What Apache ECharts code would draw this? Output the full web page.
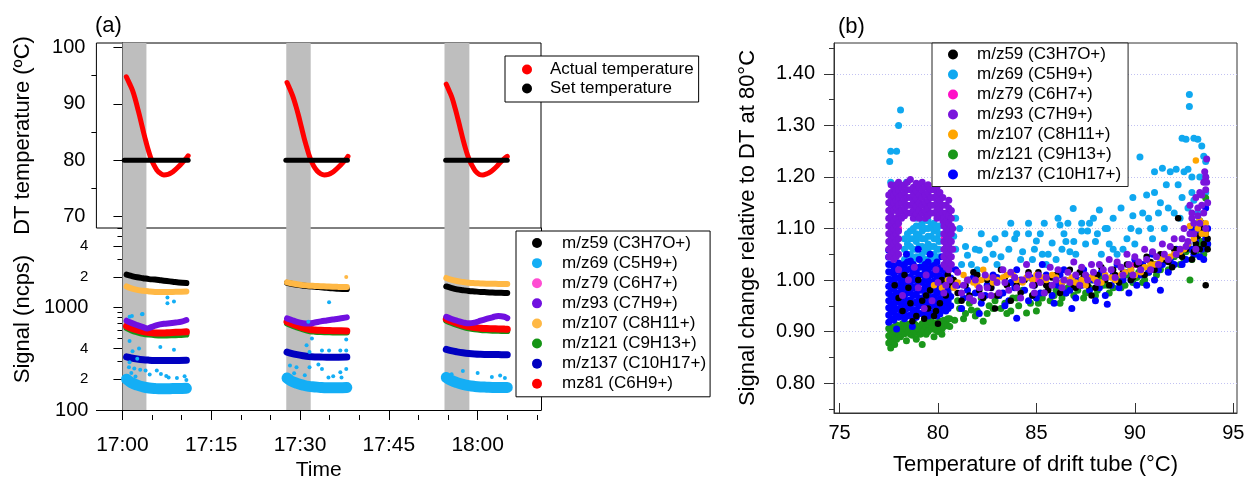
<!DOCTYPE html>
<html><head><meta charset="utf-8">
<script src="https://cdn.jsdelivr.net/npm/echarts@6/dist/echarts.min.js"></script>
<style>html,body{margin:0;padding:0;background:#fff}#c{width:1247px;height:477px}</style>
</head><body><div id="c"></div>
<script>
// ================= Panel (a) =================
const timeTicks = [0, 15, 30, 45, 60];            // minutes after 17:00
const timeMinorTicks = [5, 10, 20, 25, 35, 40, 50, 55, 65, 70];
const tempTicks = [70, 80, 90, 100];
const tempMinorTicks = [75, 85, 95];
const signalTicks = [100, 200, 400, 1000, 2000, 4000];
const signalMinorTicks = [300, 500, 600, 700, 800, 900, 3000, 5000, 6000];
const heatBands = [[0, 4.05], [27.67, 31.8], [54.4, 58.6]];

const actualTemp = [
  [[0.66,94.8],[1.2,93.6],[1.7,92.4],[2.2,90.7],[2.65,88.9],[3.1,87.0],[3.6,84.8],[4.0,83.2],[4.4,81.7],[4.8,80.4],[5.2,79.4],[5.8,78.3],[6.4,77.7],[7.0,77.4],[7.7,77.5],[8.3,77.8],[8.9,78.3],[9.5,78.9],[10.2,79.7],[10.8,80.4],[11.1,80.8]],
  [[27.8,93.8],[28.3,92.6],[28.8,91.3],[29.3,89.6],[29.75,87.9],[30.2,86.0],[30.7,83.9],[31.1,82.4],[31.5,81.0],[31.9,79.9],[32.3,79.0],[32.9,78.1],[33.5,77.6],[34.1,77.4],[34.8,77.5],[35.4,77.8],[36.0,78.3],[36.6,78.9],[37.3,79.7],[37.9,80.4],[38.1,80.7]],
  [[54.7,93.5],[55.2,92.3],[55.7,91.0],[56.2,89.2],[56.65,87.4],[57.1,85.5],[57.6,83.4],[58.0,81.9],[58.4,80.6],[58.8,79.6],[59.2,78.8],[59.7,78.0],[60.3,77.5],[60.9,77.4],[61.5,77.6],[62.1,77.9],[62.7,78.4],[63.3,79.0],[63.9,79.7],[64.5,80.3],[65.0,80.7]]
];
const setTemp = [
  [[0.3,80],[11.1,80]],
  [[27.6,80],[38.0,80]],
  [[54.6,80],[65.0,80]]
];

const mz59 = [
  [[0.7,2100],[1.5,2040],[2.5,1980],[3.5,1940],[4.5,1900],[5.5,1880],[6.5,1850],[7.5,1820],[8.5,1790],[9.5,1760],[10.8,1740]],
  [[27.8,1750],[28.5,1710],[29.5,1670],[30.5,1640],[31.5,1615],[32.5,1600],[33.5,1580],[34.5,1560],[35.5,1545],[36.5,1530],[37.9,1518]],
  [[54.7,1610],[55.5,1560],[56.5,1510],[57.5,1480],[58.5,1455],[59.5,1440],[60.5,1425],[61.5,1415],[62.5,1405],[63.5,1398],[64.5,1392],[65.0,1390]]
];
const mz107 = [
  [[0.7,1610],[1.5,1540],[2.5,1490],[3.5,1460],[4.5,1440],[5.5,1425],[6.5,1420],[7.5,1420],[8.5,1425],[9.5,1430],[10.8,1440]],
  [[27.8,1765],[28.5,1730],[29.5,1690],[30.5,1660],[31.5,1640],[32.5,1630],[33.5,1620],[34.5,1610],[35.5,1600],[36.5,1595],[37.9,1590]],
  [[54.7,1950],[55.5,1880],[56.5,1820],[57.5,1780],[58.5,1750],[59.5,1735],[60.5,1725],[61.5,1715],[62.5,1710],[63.5,1705],[64.5,1700],[65.0,1700]]
];
const mz93 = [
  [[0.7,745],[1.5,710],[2.5,675],[3.5,645],[4.2,627],[5.0,650],[6.0,680],[7.0,695],[8.0,705],[9.0,715],[10.0,730],[10.8,757]],
  [[27.8,785],[28.5,760],[29.5,725],[30.5,705],[31.5,700],[32.5,715],[33.5,735],[34.5,750],[35.5,765],[36.5,780],[37.9,804]],
  [[54.7,815],[55.5,780],[56.5,745],[57.5,718],[58.5,702],[59.5,715],[60.5,745],[61.5,775],[62.5,805],[63.5,830],[64.5,815],[65.0,790]]
];
const mz81 = [
  [[0.7,660],[1.5,630],[2.5,605],[3.5,585],[4.5,572],[5.5,566],[6.5,565],[7.5,568],[8.5,572],[9.5,575],[10.8,580]],
  [[27.8,728],[28.5,700],[29.5,665],[30.5,635],[31.5,615],[32.5,605],[33.5,600],[34.5,598],[35.5,596],[36.5,594],[37.9,593]],
  [[54.7,774],[55.5,740],[56.5,705],[57.5,675],[58.5,652],[59.5,638],[60.5,630],[61.5,625],[62.5,622],[63.5,619],[64.5,617],[65.0,616]]
];
const mz121 = [
  [[0.7,630],[1.5,600],[2.5,575],[3.5,556],[4.5,545],[5.5,538],[6.5,535],[7.5,535],[8.5,537],[9.5,540],[10.8,545]],
  [[27.8,700],[28.5,672],[29.5,640],[30.5,612],[31.5,592],[32.5,582],[33.5,577],[34.5,575],[35.5,573],[36.5,572],[37.9,572]],
  [[54.7,745],[55.5,712],[56.5,678],[57.5,650],[58.5,628],[59.5,614],[60.5,605],[61.5,600],[62.5,596],[63.5,593],[64.5,591],[65.0,590]]
];
const mz79 = [
  [[0.7,650],[2.5,598],[4.5,565],[6.5,558],[8.5,565],[10.8,572]],
  [[27.8,715],[29.5,655],[31.5,606],[33.5,592],[35.5,588],[37.9,586]],
  [[54.7,760],[56.5,695],[58.5,643],[60.5,622],[62.5,614],[65.0,608]]
];
const mz137 = [
  [[0.7,330],[1.5,322],[2.5,315],[3.5,310],[4.5,307],[5.5,305],[6.5,304],[7.5,304],[8.5,305],[9.5,305],[10.8,306]],
  [[27.8,368],[28.5,358],[29.5,347],[30.5,339],[31.5,333],[32.5,330],[33.5,329],[34.5,328],[35.5,328],[36.5,328],[37.9,329]],
  [[54.7,391],[55.5,380],[56.5,370],[57.5,362],[58.5,356],[59.5,352],[60.5,350],[61.5,349],[62.5,348],[63.5,348],[64.5,347],[65.0,347]]
];
const mz69 = [
  [[0.7,200],[1.5,185],[2.5,175],[3.5,168],[4.5,164],[5.5,162],[6.5,161],[7.5,161],[8.5,162],[9.5,162],[10.8,163]],
  [[27.8,205],[28.5,192],[29.5,182],[30.5,175],[31.5,170],[32.5,168],[33.5,166],[34.5,165],[35.5,165],[36.5,165],[37.9,166]],
  [[54.7,208],[55.5,195],[56.5,185],[57.5,178],[58.5,173],[59.5,170],[60.5,168],[61.5,167],[62.5,166],[63.5,166],[64.5,166],[65.0,166]]
];
const mz69Outliers = [[7.6,1256],[7.6,1105],[8.7,1146],[1.2,815],[3.4,866],[1.2,472],[6.4,412],[8.7,388],[1.7,376],[2.8,398],
  [1.1,262],[2.0,255],[3.0,248],[3.9,243],[5.8,243],[6.5,225],[7.4,215],[7.8,208],[1.2,293],[2.5,316],[10.8,196],[3.3,861],[1.6,828],
  [34.9,1130],[31.4,728],[32.0,499],[31.1,428],[31.6,368],[33.7,382],[34.9,382],[36.8,382],[37.8,382],[37.8,488],
  [28.3,272],[29.4,262],[31.6,262],[33.1,278],[33.7,252],[34.8,208],[36.8,234],[37.0,208],[37.8,252],[63.8,217],[57.5,240],[60.0,230],
  [1.5,230],[2.2,212],[4.6,222],[9.2,205],[10.5,214],[29.0,228],[30.8,218],[35.6,214],[55.6,224],[62.4,210],[64.6,205]];
const mz107Outliers = [[37.8,1995]];

// ================= Panel (b) =================
const bTempTicks = [75, 80, 85, 90, 95];
const bRatioTicks = [0.8, 0.9, 1.0, 1.1, 1.2, 1.3, 1.4];
const bRatioMinorTicks = [0.75, 0.85, 0.95, 1.05, 1.15, 1.25, 1.35, 1.45];

// dense cluster near 77.5-80.7 degC: columns of [temperature, [ratios...]]
const b137Block = [
  [77.5,[0.918,0.932,0.946,0.96,0.974,0.988,1.002,1.016,1.03,1.044,1.058]],
  [77.62,[0.925,0.94,0.955,0.97,0.985,1.0,1.015,1.03,1.045]],
  [77.75,[0.922,0.937,0.952,0.967,0.982,0.997,1.012,1.027]],
  [77.88,[0.93,0.945,0.96,0.975,0.99,1.005,1.02]],
  [78.0,[0.928,0.943,0.958,0.973,0.988,1.003,1.018,1.033]],
  [78.15,[0.935,0.95,0.965,0.98,0.995,1.01,1.025]],
  [78.3,[0.925,0.94,0.955,0.97,0.985,1.0,1.015,1.03]],
  [78.45,[0.93,0.945,0.96,0.975,0.99,1.005,1.02,1.035]],
  [78.6,[0.932,0.947,0.962,0.977,0.992,1.007,1.022,1.037]],
  [78.75,[0.925,0.94,0.955,0.97,0.985,1.0,1.015,1.03]],
  [78.9,[0.928,0.943,0.958,0.973,0.988,1.003,1.018]],
  [79.05,[0.935,0.95,0.965,0.98,0.995,1.01,1.025,1.04]],
  [79.2,[0.935,0.95,0.965,0.98,0.995,1.01,1.025]],
  [79.35,[0.94,0.955,0.97,0.985,1.0,1.015,1.03]],
  [79.5,[0.93,0.945,0.96,0.975,0.99,1.005,1.02,1.035]],
  [79.65,[0.935,0.95,0.965,0.98,0.995,1.01,1.025]],
  [79.8,[0.938,0.953,0.968,0.983,0.998,1.013,1.028]],
  [79.95,[0.93,0.945,0.96,0.975,0.99,1.005,1.02,1.035]],
  [80.1,[0.934,0.949,0.964,0.979,0.994,1.009,1.024]],
  [80.25,[0.945,0.96,0.975,0.99,1.005,1.02]],
  [80.4,[0.94,0.955,0.97,0.985,1.0,1.015,1.03]],
  [80.52,[0.945,0.96,0.975,0.99,1.005,1.02,1.035]],
  [80.65,[0.95,0.968,0.986,1.004,1.022]]
];
const b137Scatter = [[79.0,1.06],[79.6,1.05],[80.2,1.045],[78.4,1.05],[77.9,0.905],[78.7,0.91],
  [81.0,0.99],[81.3,0.965],[81.6,1.0],[81.9,0.975],[82.2,0.955],[82.5,0.99],[82.8,1.01],[83.1,0.97],[83.4,0.95],[83.7,0.995],[84.0,1.02],[84.0,0.926],
  [84.4,0.98],[84.7,1.005],[85.0,0.965],[85.3,1.03],[85.6,0.99],[85.9,0.955],[86.2,1.01],[86.5,0.975],[86.8,0.945],[87.1,1.0],[87.4,1.02],[87.7,0.98],
  [88.0,0.96],[88.3,1.015],[88.6,0.953],[88.8,0.99],[89.1,1.03],[89.4,1.0],[89.7,0.975],[90.0,1.04],[90.3,1.01],[90.6,0.99],[90.9,1.05],[91.2,1.02],
  [91.3,0.98],[91.8,1.04],[92.1,1.06],[92.4,1.03],[92.7,1.07],[93.0,1.05],[93.2,1.09],[93.4,1.06],[93.6,1.08],[93.7,1.1],[93.5,1.04],[92.9,1.1],
  [80.9,1.02],[81.2,0.945],[81.5,0.98],[81.8,1.005],[82.1,0.935],[82.4,0.97],[82.7,0.985],[83.0,1.005],[83.3,0.975],[83.6,0.96],[83.9,0.985],
  [84.2,1.0],[84.6,0.96],[84.9,0.99],[85.2,0.975],[85.5,1.01],[85.8,0.97],[86.1,0.99],[86.4,1.02],[86.7,0.98],[87.0,0.965],[87.3,0.99],
  [87.6,1.005],[87.9,1.0],[88.2,0.985],[88.5,0.97],[88.9,1.01],[89.2,0.985],[89.5,1.015],[89.8,1.0],[90.1,0.99],[90.4,1.03],[90.7,1.015],
  [91.0,1.0],[91.4,1.03],[91.7,1.015],[92.0,1.03],[92.3,1.05],[92.6,1.04],[92.9,1.06],[93.1,1.075],[93.3,1.045],[93.5,1.09],[93.7,1.07],
  [93.4,1.11],[93.6,1.14]];

const b93Block = [
  [77.5,[1.045,1.06,1.075,1.09,1.105,1.12,1.135,1.15,1.165]],
  [77.62,[1.05,1.065,1.08,1.095,1.11,1.125,1.14,1.155,1.17,1.185]],
  [77.75,[1.04,1.055,1.07,1.085,1.1,1.115,1.135,1.15,1.165,1.18]],
  [77.88,[1.045,1.06,1.075,1.09,1.105,1.12,1.14,1.155,1.17,1.185]],
  [78.0,[1.05,1.065,1.08,1.095,1.11,1.13,1.145,1.16,1.175,1.19]],
  [78.15,[1.12,1.135,1.15,1.165,1.18]],
  [78.3,[1.125,1.14,1.155,1.17,1.185]],
  [78.45,[1.13,1.145,1.16,1.175,1.19]],
  [78.6,[1.13,1.145,1.16,1.175,1.195]],
  [78.75,[1.12,1.135,1.15,1.165,1.18]],
  [78.9,[1.128,1.143,1.158,1.173,1.188]],
  [79.05,[1.12,1.135,1.15,1.165,1.18]],
  [79.2,[1.13,1.145,1.16,1.175,1.19]],
  [79.35,[1.12,1.135,1.15,1.165,1.18]],
  [79.5,[1.125,1.14,1.155,1.17,1.185]],
  [79.65,[1.13,1.145,1.16,1.175]],
  [79.8,[1.13,1.145,1.16,1.175]],
  [79.95,[1.12,1.135,1.15,1.165,1.18]],
  [80.1,[1.125,1.14,1.155,1.17]],
  [80.25,[1.115,1.13,1.145,1.16]],
  [80.3,[1.03,1.045,1.06,1.075,1.09,1.105,1.12]],
  [80.42,[1.025,1.04,1.055,1.07,1.085,1.1,1.115,1.13,1.145]],
  [80.55,[1.02,1.035,1.05,1.065,1.08,1.095,1.11,1.125,1.14,1.155]],
  [80.68,[1.03,1.045,1.06,1.075,1.09,1.105,1.12,1.135]]
];
const b93Scatter = [[78.5,1.0],[79.0,0.985],[79.4,1.01],[80.0,0.995],[78.2,0.97],[79.7,0.96],[80.3,0.975],[78.8,1.025],[79.3,0.945],
  [80.6,1.0],[80.4,0.99],[79.9,1.02],[78.0,1.02],[80.75,1.06],[80.75,1.1],
  [80.9,0.99],[81.2,0.975],[81.5,1.0],[81.8,0.96],[82.1,0.985],[82.4,1.01],[82.7,0.97],[83.0,0.995],[83.3,1.02],[83.6,0.98],[83.9,1.005],
  [84.2,0.965],[84.5,1.03],[84.8,0.99],[85.1,1.01],[85.4,0.975],[85.7,1.025],[86.0,1.0],[86.3,0.985],[86.6,1.015],[86.9,1.035],[87.2,0.99],
  [87.5,1.01],[87.8,1.03],[88.1,0.995],[88.4,1.02],[88.7,1.04],[89.0,1.005],[89.3,1.025],[89.6,1.05],[89.9,1.01],[90.2,1.035],[90.5,1.06],
  [90.8,1.02],[91.1,1.045],[91.4,1.07],[91.7,1.04],[92.0,1.08],[92.3,1.06],[92.5,1.1],[92.7,1.075],[92.9,1.12],[93.0,1.09],[93.2,1.14],
  [93.3,1.11],[93.4,1.165],[93.5,1.13],[93.6,1.2],[93.65,1.235],[93.5,1.19],[93.3,1.17],[93.6,1.1],[92.8,1.145],[93.1,1.06],
  [81.0,1.015],[81.3,0.99],[81.6,0.965],[81.9,1.0],[82.2,0.97],[82.5,0.985],[82.8,1.005],[83.1,0.975],[83.4,0.995],[83.7,1.015],[84.0,0.985],
  [84.3,1.0],[84.6,1.01],[84.9,0.975],[85.2,0.995],[85.5,1.005],[85.8,0.99],[86.1,1.02],[86.4,1.0],[86.7,0.995],[87.0,1.01],[87.3,1.025],
  [87.6,1.0],[87.9,1.015],[88.2,1.03],[88.5,1.005],[88.8,1.02],[89.1,1.035],[89.4,1.01],[89.7,1.03],[90.0,1.045],[90.3,1.02],[90.6,1.04],
  [90.9,1.055],[91.2,1.03],[91.5,1.05],[91.8,1.065],[92.1,1.05],[92.4,1.08],[92.6,1.065],[92.8,1.09],[93.0,1.11],[93.2,1.125],[93.4,1.145],
  [93.6,1.175],[93.55,1.21],[93.65,1.19],[93.7,1.15],[93.1,1.16],[92.9,1.13]];

const b69Block = [
  [78.3,[1.04,1.06,1.08]],
  [78.45,[1.05,1.07,1.09]],
  [78.6,[1.035,1.05,1.065,1.08,1.095]],
  [78.75,[1.04,1.06,1.08,1.1]],
  [78.9,[1.045,1.06,1.075,1.09,1.105,1.12]],
  [79.05,[1.045,1.065,1.085,1.105]],
  [79.2,[1.035,1.05,1.065,1.08,1.095,1.11]],
  [79.35,[1.04,1.06,1.08,1.1]],
  [79.5,[1.04,1.055,1.07,1.085,1.1,1.115]],
  [79.65,[1.045,1.065,1.085,1.105]],
  [79.8,[1.035,1.05,1.065,1.08,1.095,1.11]],
  [79.95,[1.04,1.06,1.08,1.1]],
  [80.05,[1.045,1.06,1.075,1.09,1.105]]
];
const b69Scatter = [[78.1,1.33],[78.0,1.30],[77.6,1.25],[77.9,1.25],[77.55,1.23],[77.6,1.19],[78.4,1.19],[80.9,1.12],[81.1,1.10],[81.4,1.065],[80.8,1.085],[80.9,1.06],
  [81.5,1.048],[82.1,1.058],[82.4,1.04],[82.8,1.05],[83.2,1.045],[83.4,1.09],[83.7,1.11],[83.9,1.08],[84.0,1.09],[84.3,1.055],[84.6,1.09],[84.6,1.11],
  [85.0,1.076],[85.3,1.05],[85.8,1.072],[86.1,1.12],[86.2,1.107],[86.5,1.075],[86.6,1.11],[86.7,1.055],[86.87,1.139],[86.9,1.075],[87.3,1.11],
  [87.3,1.095],[87.6,1.095],[87.7,1.11],[88.0,1.075],[88.2,1.136],[88.5,1.10],[88.6,1.10],[88.9,1.06],[89.3,1.14],[89.6,1.08],[89.9,1.125],
  [90.2,1.095],[90.26,1.239],[90.6,1.165],[90.7,1.12],[91.0,1.21],[91.3,1.15],[91.4,1.217],[91.6,1.185],[91.8,1.21],[92.0,1.13],[92.2,1.185],
  [92.1,1.215],[92.4,1.275],[92.5,1.21],[92.6,1.273],[92.7,1.215],[92.77,1.36],[92.77,1.337],[92.9,1.20],[93.0,1.275],[93.2,1.273],[93.4,1.26],
  [93.5,1.24],[93.6,1.20],[93.6,1.17],[92.4,1.16],[92.7,1.14],[93.0,1.155],[91.5,1.10],[90.9,1.08],[89.4,1.06],[88.3,1.05],[85.5,1.03],[84.8,1.04],
  [82.0,1.02],[81.7,1.03],
  [81.2,1.03],[81.9,1.06],[82.6,1.07],[83.0,1.03],[83.6,1.06],[84.2,1.04],[84.9,1.06],[85.2,1.09],[85.6,1.05],[86.0,1.04],[86.4,1.09],
  [87.0,1.05],[87.5,1.07],[88.1,1.09],[88.7,1.07],[89.1,1.05],[89.8,1.1],[90.0,1.07],[90.4,1.13],[90.8,1.1],[91.2,1.13],[91.7,1.14],
  [92.3,1.12],[92.9,1.17],[93.3,1.2],[93.6,1.23],[93.2,1.13],[91.0,1.17],[89.9,1.16],[88.9,1.12],[87.9,1.12],[86.3,1.06],[85.4,1.11],
  [82.9,1.08],[82.2,1.09]];

const b121Block = [
  [77.5,[0.878,0.892,0.906]],[77.6,[0.885,0.9]],[77.7,[0.88,0.894,0.908]],[77.8,[0.875,0.89,0.905]],[77.9,[0.885,0.899,0.913]],
  [78.0,[0.895,0.91]],[78.1,[0.89,0.904]],[78.2,[0.9,0.915]],[78.3,[0.896,0.91]],[78.4,[0.905]],[78.5,[0.9,0.914]],[78.6,[0.895,0.91]],
  [78.7,[0.893,0.908]],[78.8,[0.9,0.915]],[78.9,[0.898,0.912]],[79.0,[0.905]],[79.1,[0.895,0.91]],[79.2,[0.9,0.915]],[79.3,[0.902,0.916]],
  [79.4,[0.895,0.91]],[79.5,[0.9,0.914]],[79.6,[0.905,0.92]],[79.7,[0.905,0.918]],[79.8,[0.91]],[79.9,[0.903,0.917]],[80.0,[0.9,0.915]],
  [80.1,[0.908,0.92]],[80.2,[0.905,0.92]],[80.3,[0.91,0.922]],[80.4,[0.915]],[80.5,[0.912,0.925]],[80.6,[0.91,0.925]]
];
const b121Scatter = [[78.4,0.882],[79.2,0.875],[79.8,0.89],[80.2,0.895],[78.9,0.885],[77.6,0.868],
  [80.85,0.922],[81.1,0.945],[81.4,0.935],[81.7,0.942],[82.0,0.94],[82.3,0.92],[82.6,0.95],[82.9,0.96],[83.2,0.945],[83.5,0.935],[83.8,0.965],
  [84.1,0.95],[84.5,0.936],[84.8,0.97],[85.1,0.955],[85.4,0.975],[85.7,0.96],[86.0,0.98],[86.3,0.965],[86.6,0.985],[86.9,0.97],[87.2,0.99],
  [87.5,0.975],[87.8,1.0],[88.1,0.98],[88.4,0.99],[88.7,0.975],[89.0,1.0],[89.3,0.985],[89.6,1.01],[89.9,0.995],[90.2,1.015],[90.5,1.0],
  [90.8,1.025],[91.1,1.01],[91.4,1.035],[91.7,1.02],[92.0,1.045],[92.3,1.03],[92.6,1.055],[92.9,1.04],[93.2,1.065],[93.5,1.05],[93.3,1.115],
  [93.6,1.159],[92.8,1.0],[93.7,1.07],
  [81.0,0.96],[81.3,0.925],[81.6,0.955],[81.9,0.93],[82.2,0.965],[82.5,0.935],[82.8,0.945],[83.1,0.97],[83.4,0.955],[83.7,0.94],[84.0,0.965],
  [84.3,0.98],[84.7,0.955],[85.0,0.94],[85.3,0.965],[85.6,0.985],[85.9,0.97],[86.2,0.955],[86.5,0.975],[86.8,0.995],[87.1,0.98],[87.4,0.965],
  [87.7,0.985],[88.0,0.97],[88.3,1.005],[88.6,0.99],[88.9,0.985],[89.2,1.005],[89.5,0.99],[89.8,1.02],[90.1,1.005],[90.4,0.995],[90.7,1.015],
  [91.0,1.03],[91.3,1.02],[91.6,1.04],[91.9,1.03],[92.2,1.05],[92.5,1.04],[92.8,1.06],[93.1,1.05],[93.4,1.075],[93.6,1.06]];

const b59Scatter = [[78.2,0.94],[78.6,0.955],[78.9,0.93],[79.2,0.96],[79.5,0.945],[79.8,0.93],[80.1,0.955],[80.4,0.97],[78.5,0.985],[79.0,1.0],
  [79.6,0.98],[80.2,1.0],[78.0,0.965],[77.8,0.99],[79.3,0.925],[80.0,0.915],[79.9,0.94],[78.7,0.92],[80.5,1.01],[79.4,0.97],[78.3,1.01],[80.7,0.99],
  [81.0,0.975],[81.4,0.99],[81.8,1.015],[82.1,0.98],[82.5,1.0],[82.9,0.945],[83.2,1.02],[83.5,0.99],[83.9,1.005],[84.2,0.975],[84.6,1.015],
  [84.9,0.99],[85.3,1.0],[85.6,0.98],[86.0,1.01],[86.3,0.995],[86.7,1.02],[87.0,0.985],[87.4,1.005],[87.8,0.97],[88.1,1.01],[88.5,1.0],
  [88.9,1.02],[89.2,0.995],[89.6,1.03],[89.9,1.005],[90.3,1.025],[90.6,1.045],[91.0,1.02],[91.3,1.05],[91.7,1.035],[92.0,1.06],[92.4,1.045],
  [92.7,1.07],[93.0,1.055],[93.2,1.085],[92.2,1.12],[93.5,1.07],[93.6,0.99],[93.4,1.1],[93.7,1.06],
  [80.8,1.0],[81.2,0.96],[81.6,0.97],[82.0,1.01],[82.3,0.965],[82.7,0.985],[83.0,0.97],[83.4,1.005],[83.7,0.96],[84.0,0.99],[84.4,1.0],
  [84.8,0.97],[85.1,1.015],[85.5,0.99],[85.8,1.005],[86.2,0.975],[86.5,1.0],[86.9,0.99],[87.2,1.015],[87.6,0.99],[88.0,0.985],[88.3,1.025],
  [88.7,0.99],[89.0,1.01],[89.4,1.015],[89.8,1.0],[90.1,1.03],[90.5,1.01],[90.8,1.035],[91.2,1.03],[91.5,1.04],[91.9,1.025],[92.2,1.05],
  [92.6,1.06],[92.9,1.04],[93.1,1.07],[93.3,1.06],[93.6,1.09],[93.7,1.08]];

const b107Scatter = [[79.8,0.99],[80.2,0.985],[80.5,1.0],[81.0,0.995],[81.5,1.0],[82.0,0.99],[82.3,1.02],[82.5,1.005],[83.0,1.0],[83.5,1.01],
  [84.0,1.0],[84.5,1.005],[85.0,1.01],[85.5,1.0],[86.0,1.005],[86.5,1.0],[87.0,0.995],[87.5,0.99],[88.0,1.0],[88.5,1.01],[89.0,1.0],
  [89.5,1.015],[90.0,1.01],[90.5,1.025],[91.0,1.03],[91.5,1.045],[92.0,1.05],[92.5,1.06],[92.8,1.105],[93.0,1.08],[93.1,1.232],[93.2,1.1],
  [93.3,1.115],[93.6,1.09],
  [80.8,0.985],[81.3,1.01],[81.8,0.995],[82.2,1.0],[82.8,0.995],[83.3,1.005],[83.8,1.01],[84.3,0.995],[84.8,1.0],[85.3,1.005],[85.8,1.01],
  [86.3,0.995],[86.8,1.005],[87.3,1.0],[87.8,1.005],[88.3,0.995],[88.8,1.005],[89.3,1.01],[89.8,1.02],[90.3,1.015],[90.8,1.03],[91.3,1.04],
  [91.8,1.045],[92.3,1.055],[92.7,1.07],[93.4,1.09],[93.6,1.11]];

const b79Scatter = [[78.0,1.1],[79.0,1.16],[80.3,1.08],[85.0,1.0],[90.0,1.03]];

// ================= build options =================
const FONT = 'Liberation Sans, Arial, sans-serif';
function expand(cols){ const out=[]; cols.forEach(c=>c[1].forEach(v=>out.push([c[0],v]))); return out; }
function fmtTime(v){ const t=17*60+Math.round(v); const h=Math.floor(t/60), m=t%60; return h+':'+String(m).padStart(2,'0'); }

const A = {lb:'#14aef5', pink:'#ff4dd2', purple:'#7010e0', orange:'#ffb845', green:'#159515', blue:'#0000c0', red:'#ff0000', black:'#000000'};
const B = {lb:'#0fa8f0', pink:'#ff10c8', purple:'#7a14dc', orange:'#ffa500', green:'#1a971a', blue:'#0000ff', black:'#000000'};
const N = {m59:'m/z59 (C3H7O+)', m69:'m/z69 (C5H9+)', m79:'m/z79 (C6H7+)', m93:'m/z93 (C7H9+)', m107:'m/z107 (C8H11+)',
           m121:'m/z121 (C9H13+)', m137:'m/z137 (C10H17+)', m81:'mz81 (C6H9+)'};

const series = [];
function band(xi, yi){
  series.push({type:'line', xAxisIndex:xi, yAxisIndex:yi, data:[], z:1, silent:true,
    markArea:{silent:true, itemStyle:{color:'#bebebe'}, data: heatBands.map(b=>[{xAxis:b[0]},{xAxis:b[1]}])}});
}
function lines(name, cycles, color, width, xi, yi){
  cycles.forEach(pts=>series.push({name, type:'line', xAxisIndex:xi, yAxisIndex:yi, data:pts, smooth:0.4, symbol:'none',
    lineStyle:{color, width, cap:'round', join:'round'}, itemStyle:{color}, silent:true, z:2}));
}
function dots(name, pts, color, size, xi, yi){
  series.push({name, type:'scatter', xAxisIndex:xi, yAxisIndex:yi, data:pts, symbolSize:size,
    itemStyle:{color, opacity:1}, silent:true, z:3});
}
band(0,0); band(1,2);
lines('Actual temperature', actualTemp, '#ff0000', 5, 0, 0);
lines('Set temperature', setTemp, '#000', 5, 0, 0);
lines(N.m69, mz69, A.lb, 11, 1, 2);
dots(N.m69, mz69Outliers, A.lb, 4, 1, 2);
lines(N.m137, mz137, A.blue, 7, 1, 2);
lines(N.m79, mz79, A.pink, 6, 1, 2);
lines(N.m121, mz121, A.green, 6, 1, 2);
lines(N.m81, mz81, A.red, 7, 1, 2);
lines(N.m93, mz93, A.purple, 6, 1, 2);
lines(N.m59, mz59, A.black, 6, 1, 2);
lines(N.m107, mz107, A.orange, 6, 1, 2);
dots(N.m107, mz107Outliers, A.orange, 4, 1, 2);

dots(N.m79, b79Scatter, B.pink, 7, 3, 5);
dots(N.m69, expand(b69Block).concat(b69Scatter), B.lb, 7, 3, 5);
dots(N.m121, expand(b121Block).concat(b121Scatter), B.green, 7, 3, 5);
dots(N.m137, expand(b137Block).concat(b137Scatter), B.blue, 7, 3, 5);
dots(N.m59, b59Scatter, B.black, 6.5, 3, 5);
dots(N.m107, b107Scatter, B.orange, 6.5, 3, 5);
dots(N.m93, expand(b93Block).concat(b93Scatter), B.purple, 7, 3, 5);

function legendItems(list){ return list.map(([name,color])=>({name, itemStyle:{color, borderWidth:0}})); }
const legBase = {orient:'vertical', icon:'circle', itemWidth:10, itemHeight:10, itemGap:0, selectedMode:false,
  borderColor:'#000', borderWidth:1, backgroundColor:'#fff', borderRadius:0};

const tickLine = {lineStyle:{color:'#000', width:1}};
const gridCommon = {containLabel:false, outerBoundsMode:'none'};
const option = {
  animation:false,
  textStyle:{fontFamily:FONT},
  grid:[
    Object.assign({left:96.4, top:43, width:444.6, height:185, show:true, borderColor:'#000', borderWidth:1, backgroundColor:'transparent'}, gridCommon),
    Object.assign({left:96.4, top:228, width:444.6, height:182}, gridCommon),
    Object.assign({left:834, top:43, width:403, height:370, show:true, borderColor:'#333', borderWidth:1, backgroundColor:'transparent'}, gridCommon)
  ],
  xAxis:[
    {gridIndex:0, type:'value', min:-4.4, max:70.7, show:false},
    {gridIndex:1, type:'value', position:'bottom', min:-4.4, max:70.7, offset:5,
     axisLine:{show:true, lineStyle:{color:'#000', width:1}},
     axisTick:{show:true, customValues:timeTicks, length:10, ...tickLine},
     axisLabel:{show:true, customValues:timeTicks, formatter:fmtTime, fontSize:21, margin:20, color:'#000', fontFamily:FONT},
     splitLine:{show:false},
     name:'Time', nameLocation:'middle', nameGap:45, nameTextStyle:{fontSize:21, color:'#000', fontFamily:FONT}},
    {gridIndex:1, type:'value', position:'bottom', min:-4.4, max:70.7, offset:5,
     axisLine:{show:false}, axisTick:{show:true, customValues:timeMinorTicks, length:5, ...tickLine},
     axisLabel:{show:false}, splitLine:{show:false}},
    {gridIndex:2, type:'value', position:'bottom', min:74.72, max:95.19,
     axisLine:{show:true, lineStyle:{color:'#333', width:1}},
     axisTick:{show:true, inside:true, customValues:bTempTicks, length:10, lineStyle:{color:'#333'}},
     axisLabel:{show:true, customValues:bTempTicks, fontSize:20, margin:10, color:'#000', fontFamily:FONT},
     splitLine:{show:false},
     name:'Temperature of drift tube (°C)', nameLocation:'middle', nameGap:41,
     nameTextStyle:{fontSize:22, color:'#000', fontFamily:FONT}}
  ],
  yAxis:[
    {gridIndex:0, type:'value', position:'left', min:68, max:100.8,
     axisLine:{show:true, lineStyle:{color:'#000', width:1}},
     axisTick:{show:true, customValues:tempTicks, length:9, ...tickLine},
     axisLabel:{show:true, customValues:tempTicks, fontSize:20, margin:11, color:'#000', fontFamily:FONT},
     splitLine:{show:false},
     name:'DT temperature (ºC)', nameLocation:'middle', nameGap:62, nameRotate:90,
     nameTextStyle:{fontSize:22, color:'#000', fontFamily:FONT}},
    {gridIndex:0, type:'value', position:'left', min:68, max:100.8, axisLine:{show:false},
     axisTick:{show:true, customValues:tempMinorTicks, length:5, ...tickLine}, axisLabel:{show:false}, splitLine:{show:false}},
    {gridIndex:1, type:'log', position:'left', logBase:10, min:100, max:6000,
     axisLine:{show:true, lineStyle:{color:'#000', width:1}},
     axisTick:{show:true, customValues:signalTicks, length:9, ...tickLine},
     axisLabel:{show:true, customValues:signalTicks, margin:8, color:'#000', fontFamily:FONT,
       formatter:v=>(v===100||v===1000)?'{b|'+v+'}':'{s|'+String(v).charAt(0)+'}',
       rich:{b:{fontSize:20, fontFamily:FONT, color:'#000'}, s:{fontSize:15, fontFamily:FONT, color:'#000'}}},
     splitLine:{show:false},
     name:'Signal (ncps)', nameLocation:'middle', nameGap:62, nameRotate:90,
     nameTextStyle:{fontSize:22, color:'#000', fontFamily:FONT}},
    {gridIndex:1, type:'log', position:'left', logBase:10, min:100, max:6000, axisLine:{show:false},
     axisTick:{show:true, customValues:signalMinorTicks, length:5, ...tickLine}, axisLabel:{show:false}, splitLine:{show:false}},
    {gridIndex:1, type:'value', min:0, max:1, position:'right',
     axisLine:{show:true, lineStyle:{color:'#000', width:1}}, axisTick:{show:false}, axisLabel:{show:false}, splitLine:{show:false}},
    {gridIndex:2, type:'value', position:'left', min:0.742, max:1.46,
     axisLine:{show:true, lineStyle:{color:'#333', width:1}},
     axisTick:{show:true, customValues:bRatioTicks, length:10, lineStyle:{color:'#333'}},
     axisLabel:{show:true, customValues:bRatioTicks, formatter:v=>v.toFixed(2), fontSize:20, margin:19, color:'#000', fontFamily:FONT},
     splitLine:{show:true, lineStyle:{type:[1,2], color:'#c2c2f2', width:1}},
     name:'Signal change relative to DT at 80°C', nameLocation:'middle', nameGap:75, nameRotate:90,
     nameTextStyle:{fontSize:22, color:'#000', fontFamily:FONT}},
    {gridIndex:2, type:'value', position:'left', min:0.742, max:1.46, axisLine:{show:false},
     axisTick:{show:true, customValues:bRatioMinorTicks, length:5, lineStyle:{color:'#333'}}, axisLabel:{show:false}, splitLine:{show:false}}
  ],
  legend:[
    Object.assign({}, legBase, {left:505, top:56, padding:[4,5,4,17],
      textStyle:{fontSize:17, lineHeight:19, color:'#000', fontFamily:FONT, padding:[0,0,0,13]},
      data:legendItems([['Actual temperature','#ff0000'],['Set temperature','#000000']])}),
    Object.assign({}, legBase, {left:516, top:231, padding:[2,4,3,16],
      textStyle:{fontSize:17, lineHeight:20.1, color:'#000', fontFamily:FONT, padding:[0,0,0,15]},
      data:legendItems([[N.m59,A.black],[N.m69,A.lb],[N.m79,A.pink],[N.m93,A.purple],[N.m107,A.orange],[N.m121,A.green],[N.m137,A.blue],[N.m81,A.red]])}),
    Object.assign({}, legBase, {left:932, top:43, padding:[1.5,7,2,16], borderColor:'#222',
      textStyle:{fontSize:17, lineHeight:20, color:'#000', fontFamily:FONT, padding:[0,0,0,14]},
      data:legendItems([[N.m59,B.black],[N.m69,B.lb],[N.m79,B.pink],[N.m93,B.purple],[N.m107,B.orange],[N.m121,B.green],[N.m137,B.blue]])})
  ],
  graphic:[
    {type:'text', left:95, top:15, style:{text:'(a)', font:'22px '+FONT, fill:'#000'}},
    {type:'text', left:838, top:16, style:{text:'(b)', font:'22px '+FONT, fill:'#000'}}
  ],
  series
};
const chart = echarts.init(document.getElementById('c'), null, {renderer:'canvas'});
chart.setOption(option);
</script></body></html>
